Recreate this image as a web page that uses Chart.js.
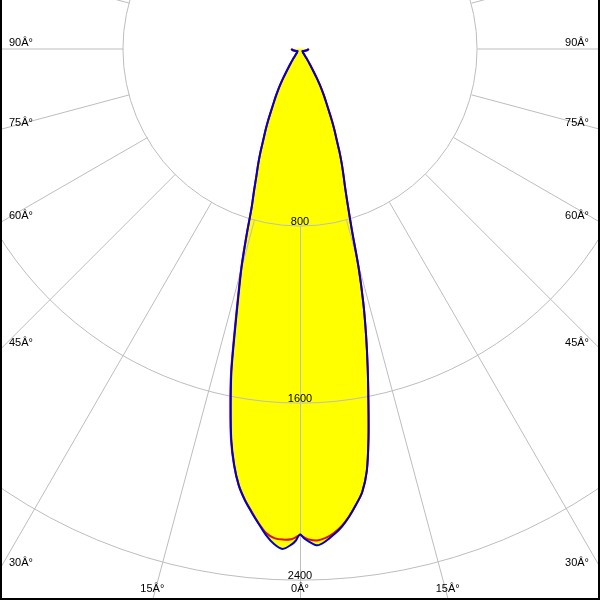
<!DOCTYPE html>
<html>
<head>
<meta charset="utf-8">
<title>Curva fotométrica</title>
<script src="https://cdn.jsdelivr.net/npm/chart.js@4.4.1/dist/chart.umd.min.js"></script>
<style>
    html, body { margin: 0; padding: 0; background: #ffffff; }
    #marco { width: 600px; height: 600px; position: relative; }
</style>
</head>
<body>
<div id="marco"><canvas id="curvaPolar"></canvas></div>
<script>
// --- Datos: intensidad (cd) por ángulo, 0° = hacia abajo ---
const angulos = [-90, -80, -70, -60, -50, -45, -40, -38, -36, -35, -34, -33, -32, -31, -30, -29, -28, -27, -26, -25,
    -24, -23, -22, -21, -20, -19, -18, -17, -16, -15, -14, -13, -12, -11, -10, -9, -8, -7, -6, -5, -4, -3, -2, -1, -0.5, 0,
    0.5, 1, 2, 3, 4, 5, 6, 7, 8, 9, 10, 11, 12, 13, 14, 15, 16, 17, 18, 19, 20, 21, 22, 23, 24, 25, 26, 27, 28, 29, 30,
    31, 32, 33, 34, 35, 36, 38, 40, 45, 50, 60, 70, 80, 90];

const curvaAzul = [40, 32, 24, 18, 15, 17, 22, 28, 40, 50, 62, 78, 97, 121, 151, 182, 213, 243, 273, 310,
    355, 399, 443, 498, 552, 604, 671, 745, 875, 1020, 1150, 1307, 1491, 1640, 1789, 1902, 1990, 2052, 2103, 2152, 2202, 2240, 2260, 2240, 2222, 2193,
    2212, 2225, 2244, 2227, 2199, 2167, 2125, 2075, 2021, 1930, 1783, 1620, 1471, 1327, 1183, 1024, 850, 740, 661, 604, 552, 498, 443, 399, 355, 310, 273, 243, 213, 182, 151,
    121, 97, 78, 62, 50, 40, 28, 22, 17, 15, 18, 24, 32, 40];

const curvaRoja = [40, 32, 24, 18, 15, 17, 22, 28, 40, 50, 62, 78, 97, 121, 151, 182, 213, 243, 273, 310,
    355, 399, 443, 498, 552, 604, 671, 747, 880, 1027, 1160, 1318, 1500, 1650, 1795, 1905, 1990, 2050, 2100, 2150, 2192, 2213, 2218, 2215, 2207, 2196,
    2207, 2216, 2222, 2212, 2192, 2163, 2123, 2075, 2021, 1930, 1783, 1620, 1471, 1327, 1183, 1024, 850, 740, 661, 604, 552, 498, 443, 399, 355, 310, 273, 243, 213, 182, 151,
    121, 97, 78, 62, 50, 40, 28, 22, 17, 15, 18, 24, 32, 40];

const anillos = [800, 1600, 2400];
const angulosEtiqueta = [0, 15, 30, 45, 60, 75, 90];
const sufijoGrado = 'Â°';

// Convierte (ángulo, cd) en puntos x/y del gráfico
function aPuntos(valores) {
    return angulos.map((a, i) => {
        const rad = a * Math.PI / 180;
        return { x: valores[i] * Math.sin(rad), y: -valores[i] * Math.cos(rad) };
    });
}

const FUENTE = '11px "Liberation Sans", Arial, sans-serif';

// Plugin: relleno amarillo, rejilla polar y etiquetas
const rejillaPolar = {
    id: 'rejillaPolar',
    beforeDatasetsDraw(chart) {
        const { ctx, chartArea, scales: { x, y } } = chart;
        const cx = x.getPixelForValue(0);
        const cy = y.getPixelForValue(0);
        const radio = v => x.getPixelForValue(v) - cx;

        ctx.save();
        // 1. relleno de las curvas (sigue el mismo trazado suavizado de cada línea)
        ctx.fillStyle = '#ffff00';
        chart.data.datasets.forEach((ds, i) => {
            const linea = chart.getDatasetMeta(i).dataset;
            ctx.beginPath();
            linea.path(ctx);
            ctx.closePath();
            ctx.fill();
        });

        // 2. anillos y radios
        ctx.strokeStyle = '#bdbdbd';
        ctx.lineWidth = 1;
        anillos.forEach(v => {
            ctx.beginPath();
            ctx.arc(cx, cy, radio(v), 0, Math.PI * 2);
            ctx.stroke();
        });
        const r0 = radio(anillos[0]);
        for (let a = 0; a < 360; a += 15) {
            const rad = a * Math.PI / 180;
            const sx = Math.sin(rad), sy = Math.cos(rad);
            ctx.beginPath();
            ctx.moveTo(Math.round(cx + r0 * sx) + 0.5, cy + r0 * sy);
            ctx.lineTo(Math.round(cx + 2000 * sx) + 0.5, cy + 2000 * sy);
            ctx.stroke();
        }

        // 3. etiquetas
        ctx.fillStyle = '#000000';
        ctx.font = FUENTE;
        ctx.textBaseline = 'alphabetic';
        anillos.forEach(v => {
            ctx.textAlign = 'center';
            ctx.fillText(String(v), cx, cy + radio(v) - 1);
        });
        angulosEtiqueta.forEach(a => {
            [-1, 1].forEach(lado => {
                if (a === 0 && lado === 1) return;
                const rad = a * Math.PI / 180;
                const dx = lado * Math.sin(rad), dy = Math.cos(rad);
                const tLado = Math.abs(dx) > 1e-9 ? (dx < 0 ? cx - chartArea.left : chartArea.right - cx) / Math.abs(dx) : Infinity;
                const tAbajo = dy > 1e-9 ? (chartArea.bottom - cy) / dy : Infinity;
                const texto = a + sufijoGrado;
                if (tLado < tAbajo) {
                    const ySalida = cy + tLado * dy;
                    ctx.textAlign = dx < 0 ? 'left' : 'right';
                    ctx.fillText(texto, dx < 0 ? chartArea.left + 9 : chartArea.right - 11, ySalida - 3);
                } else {
                    const xSalida = cx + tAbajo * dx;
                    ctx.textAlign = 'center';
                    ctx.fillText(texto, xSalida, chartArea.bottom - 8);
                }
            });
        });
        ctx.restore();
    },
    afterDraw(chart) {
        const { ctx, width, height } = chart;
        ctx.save();
        ctx.fillStyle = '#000000';
        ctx.fillRect(0, 0, 2, height);
        ctx.fillRect(width - 2, 0, 2, height);
        ctx.fillRect(0, height - 2, width, 2);
        ctx.restore();
    }
};

document.addEventListener('DOMContentLoaded', () => {
    const ctx = document.getElementById('curvaPolar').getContext('2d');
    new Chart(ctx, {
        type: 'scatter',
        data: {
            datasets: [
                {
                    label: 'C90-C270',
                    data: aPuntos(curvaAzul),
                    showLine: true,
                    borderColor: '#0000cc',
                    borderWidth: 2,
                    pointRadius: 0,
                    tension: 0.3,
                    fill: false
                },
                {
                    label: 'C0-C180',
                    data: aPuntos(curvaRoja),
                    showLine: true,
                    borderColor: '#dd1111',
                    borderWidth: 2,
                    pointRadius: 0,
                    tension: 0.3,
                    fill: false
                }
            ]
        },
        options: {
            responsive: true,
            maintainAspectRatio: false,
            animation: false,
            layout: { padding: 0 },
            scales: {
                x: { type: 'linear', min: -1355.5, max: 1355.5, display: false },
                y: { type: 'linear', min: -2489.6, max: 221.4, display: false }
            },
            plugins: {
                legend: { display: false },
                tooltip: { enabled: false }
            }
        },
        plugins: [rejillaPolar]
    });
});
</script>
</body>
</html>
